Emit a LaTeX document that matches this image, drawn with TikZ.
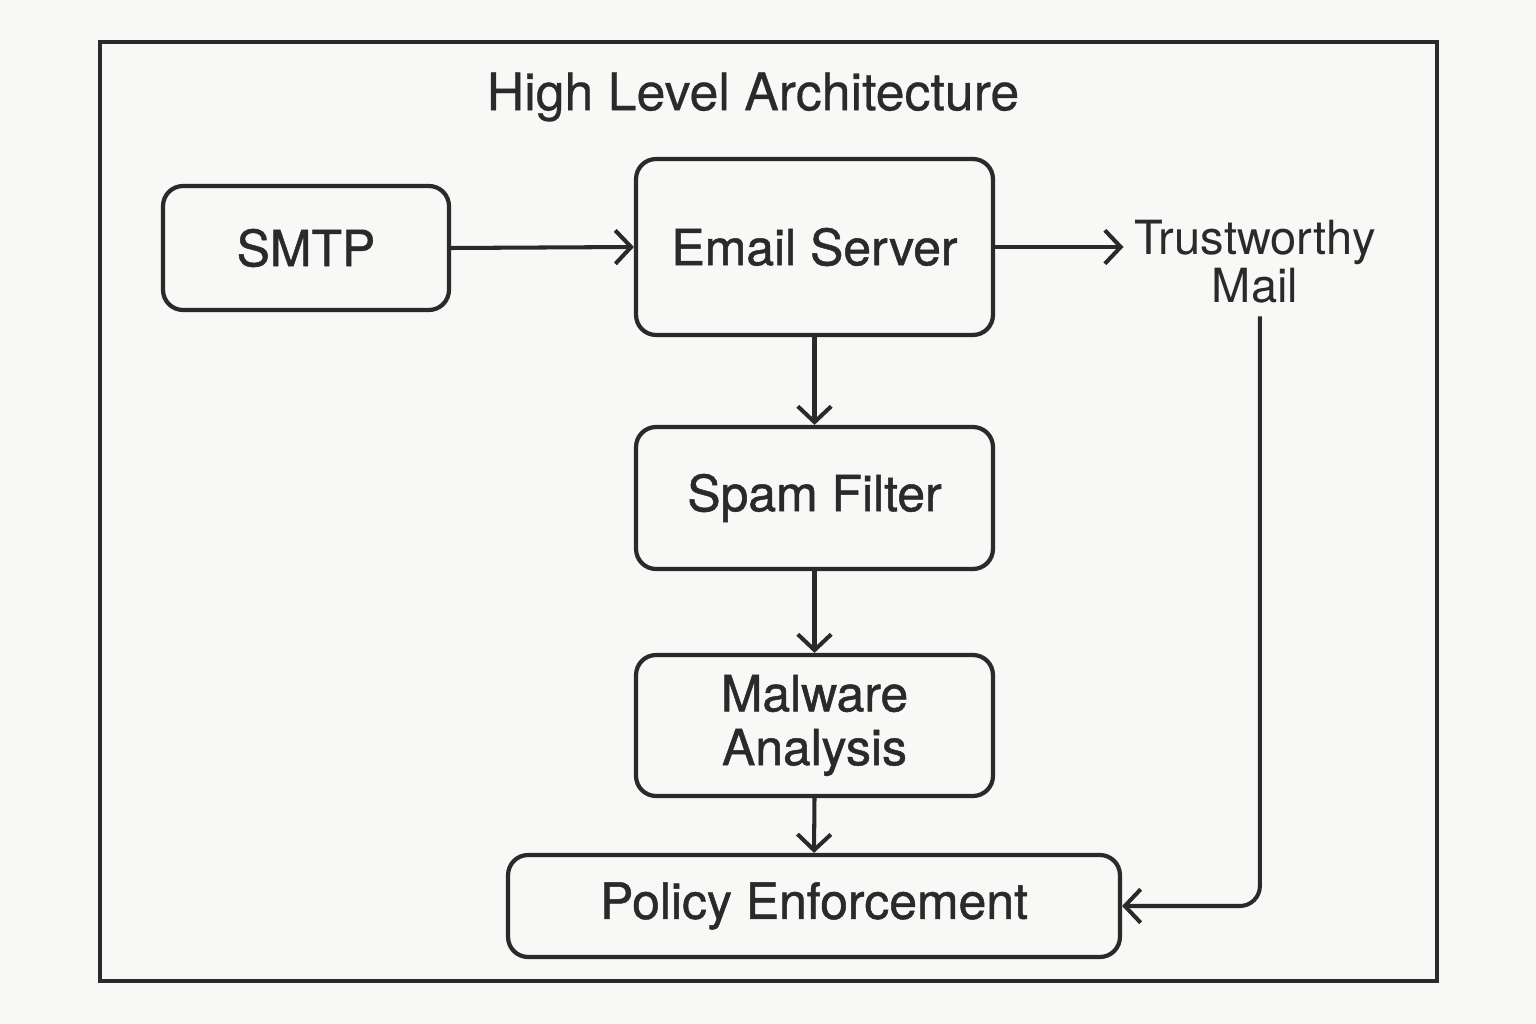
\documentclass[tikz,border=0pt]{standalone}
\usepackage{fontspec}
\setmainfont{TeX Gyre Heros}
\newfontfamily\medfont{TeX Gyre Heros}[FakeBold=1.0]
\newfontfamily\titlefont{TeX Gyre Heros}[FakeBold=0.5]
\usetikzlibrary{arrows.meta}
\definecolor{ink}{HTML}{2A2A2A}
\definecolor{paper}{HTML}{F8F8F6}
\tikzset{
  box/.style={draw=ink, line width=2.4pt, rounded corners=0.4cm, font=\medfont\fontsize{28.4}{31}\selectfont, text=ink, align=center, inner sep=0pt},
  conn/.style={draw=ink, line width=2.3pt, -{Straight Barb[length=9pt,width=19pt,line width=2.3pt]}},
}
\begin{document}
\begin{tikzpicture}[x=0.02cm,y=-0.02cm]
\fill[paper] (0,0) rectangle (1536,1024);
\useasboundingbox (0,0) rectangle (1536,1024);
\draw[ink, line width=2pt] (100,42) rectangle (1437,981);
\node[text=ink, font=\titlefont\fontsize{29.5}{31}\selectfont] (title) at (753,97) {High Level Architecture};
\node[box, minimum width=5.72cm, minimum height=2.48cm] (smtp) at (306,248) {SMTP};
\node[box, minimum width=7.14cm, minimum height=3.52cm] (es) at (814.5,247) {Email Server};
\node[box, minimum width=7.14cm, minimum height=2.84cm] (sf) at (814.5,498) {Spam Filter};
\node[box, minimum width=7.14cm, minimum height=2.82cm, font=\medfont\fontsize{28.4}{30.6}\selectfont] (ma) at (814.5,725.5) {\raisebox{-2.2pt}{Malware}\\\raisebox{-2.2pt}{Analysis}};
\node[box, minimum width=12.24cm, minimum height=2.04cm] (pe) at (814,906) {Policy Enforcement};
\node[text=ink, font=\fontsize{26.8}{27.5}\selectfont, align=center, inner xsep=6pt, inner ysep=7pt] (tm) at (1255,262) {Trustworthy\\Mail};
\draw[conn] (smtp.east) -- (es.west);
\draw[conn] (es.east) -- (es.east -| tm.west);
\draw[conn] (es.south) -- (sf.north);
\draw[conn] (sf.south) -- (ma.north);
\draw[conn] (ma.south) -- (pe.north);
\draw[conn, rounded corners=0.4cm] ([xshift=2.8pt]tm.south) |- (pe.east);
\end{tikzpicture}
\end{document}
